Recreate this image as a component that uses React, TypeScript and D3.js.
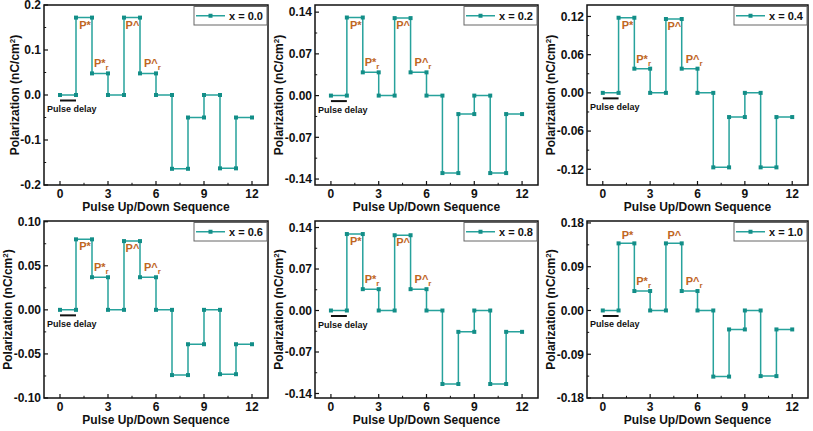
import React from "react";
import * as d3 from "d3";

// ---- data ----
const pulseSteps = [0, 1, 2, 3, 4, 5, 6, 7, 8, 9, 10, 11, 12];
const xTicks = [0, 3, 6, 9, 12];
const xMinorTicks = [1.5, 4.5, 7.5, 10.5];
const compositionLabels = ["x = 0.0", "x = 0.2", "x = 0.4", "x = 0.6", "x = 0.8", "x = 1.0"];

// polarization level held during each pulse interval [i, i+1]
const levelsX00 = [0, 0.172, 0.048, 0, 0.172, 0.048, 0, -0.164, -0.05, 0, -0.163, -0.05];
const levelsX02 = [0, 0.131, 0.039, 0, 0.13, 0.039, 0, -0.13, -0.031, 0, -0.13, -0.031];
const levelsX04 = [0, 0.118, 0.038, 0, 0.116, 0.038, 0, -0.117, -0.038, 0, -0.117, -0.038];
const levelsX06 = [0, 0.08, 0.037, 0, 0.078, 0.037, 0, -0.074, -0.039, 0, -0.073, -0.039];
const levelsX08 = [0, 0.129, 0.036, 0, 0.127, 0.036, 0, -0.124, -0.036, 0, -0.124, -0.036];
const levelsX10 = [0, 0.138, 0.04, 0, 0.138, 0.04, 0, -0.136, -0.039, 0, -0.135, -0.039];

const yDomainX00 = [-0.2, 0.2];
const yDomainX02 = [-0.15, 0.152];
const yDomainX04 = [-0.1447, 0.138];
const yDomainX06 = [-0.1, 0.1008];
const yDomainX08 = [-0.1476, 0.151];
const yDomainX10 = [-0.18, 0.184];

const yTicksX00 = [-0.2, -0.1, 0, 0.1, 0.2];
const yTicksX02 = [-0.14, -0.07, 0, 0.07, 0.14];
const yTicksX04 = [-0.12, -0.06, 0, 0.06, 0.12];
const yTicksX06 = [-0.1, -0.05, 0, 0.05, 0.1];
const yTicksX08 = [-0.14, -0.07, 0, 0.07, 0.14];
const yTicksX10 = [-0.18, -0.09, 0, 0.09, 0.18];

const yTickLabelsX00 = ["-0.2", "-0.1", "0.0", "0.1", "0.2"];
const yTickLabelsX02 = ["-0.14", "-0.07", "0.00", "0.07", "0.14"];
const yTickLabelsX04 = ["-0.12", "-0.06", "0.00", "0.06", "0.12"];
const yTickLabelsX06 = ["-0.10", "-0.05", "0.00", "0.05", "0.10"];
const yTickLabelsX08 = ["-0.14", "-0.07", "0.00", "0.07", "0.14"];
const yTickLabelsX10 = ["-0.18", "-0.09", "0.00", "0.09", "0.18"];

// annotation x positions (sequence units)
const annoPStarX = 1.2;
const annoPStarRX = 2.12;
const annoPHatX = 4.1;
const annoPHatRX = 5.25;
const pulseDelayRange = [0, 1];

const panels = [
  { label: compositionLabels[0], levels: levelsX00, dom: yDomainX00, ticks: yTicksX00, tl: yTickLabelsX00, topAbove: false },
  { label: compositionLabels[1], levels: levelsX02, dom: yDomainX02, ticks: yTicksX02, tl: yTickLabelsX02, topAbove: false },
  { label: compositionLabels[2], levels: levelsX04, dom: yDomainX04, ticks: yTicksX04, tl: yTickLabelsX04, topAbove: false },
  { label: compositionLabels[3], levels: levelsX06, dom: yDomainX06, ticks: yTicksX06, tl: yTickLabelsX06, topAbove: false },
  { label: compositionLabels[4], levels: levelsX08, dom: yDomainX08, ticks: yTicksX08, tl: yTickLabelsX08, topAbove: false },
  { label: compositionLabels[5], levels: levelsX10, dom: yDomainX10, ticks: yTicksX10, tl: yTickLabelsX10, topAbove: true },
];

// ---- layout / style ----
const W = 813;
const H = 431;
const cols = [
  { l: 44, r: 268 },
  { l: 315, r: 538 },
  { l: 587, r: 808 },
];
const rows = [
  { t: 5, b: 185 },
  { t: 221, b: 398 },
];
const FONT = "'Liberation Sans', Arial, Helvetica, sans-serif";
const LINE = "#27a29c";
const MARK = "#138e88";
const ANNO = "#c0661f";
const TICK_FS = 12;

// approximate width of a bold tick label (Arial/Liberation metrics)
function labelWidth(s: string) {
  let w = 0;
  for (const ch of s) w += ch === "." ? 0.278 : ch === "-" ? 0.333 : 0.556;
  return w * TICK_FS;
}

function Panel({ p, col, row }: any) {
  const x = d3.scaleLinear().domain([-1, 13]).range([col.l, col.r]);
  const y = d3.scaleLinear().domain(p.dom).range([row.b, row.t]);
  const pts: [number, number][] = [];
  p.levels.forEach((v: number, i: number) => {
    pts.push([pulseSteps[i], v]);
    pts.push([pulseSteps[i + 1], v]);
  });
  const line = d3
    .line<[number, number]>()
    .x((d) => x(d[0]))
    .y((d) => y(d[1]));
  const yMinor = d3.pairs(p.ticks as number[]).map(([a, b]) => (a + b) / 2);
  const cx = (col.l + col.r) / 2;
  const cy = (row.t + row.b) / 2;
  const lv = p.levels;
  const topDy = p.topAbove ? -4 : 3;
  const topBaseline = p.topAbove ? "auto" : "hanging";
  const legX = col.r - 74;
  const legY = row.t + 1.5;
  const maxW = d3.max(p.tl as string[], (s) => labelWidth(s)) || 0;
  const titleX = col.l - 3 - maxW - 1.8;
  return (
    <g>
      {/* frame */}
      <rect x={col.l} y={row.t} width={col.r - col.l} height={row.b - row.t} fill="none" stroke="#111" strokeWidth={1.5} />
      {/* x ticks */}
      {xTicks.map((t) => (
        <g key={"xt" + t}>
          <line x1={x(t)} x2={x(t)} y1={row.b} y2={row.b - 4} stroke="#111" strokeWidth={1.2} />
          <text x={x(t)} y={row.b + 12.5} textAnchor="middle" fontSize={TICK_FS} fontWeight="bold" fontFamily={FONT} fill="#111">
            {t}
          </text>
        </g>
      ))}
      {xMinorTicks.map((t) => (
        <line key={"xm" + t} x1={x(t)} x2={x(t)} y1={row.b} y2={row.b - 2.2} stroke="#111" strokeWidth={1} />
      ))}
      {/* y ticks */}
      {p.ticks.map((t: number, i: number) => (
        <g key={"yt" + i}>
          <line x1={col.l} x2={col.l + 4} y1={y(t)} y2={y(t)} stroke="#111" strokeWidth={1.2} />
          <text x={col.l - 3} y={y(t) + 4.3} textAnchor="end" fontSize={TICK_FS} fontWeight="bold" fontFamily={FONT} fill="#111">
            {p.tl[i]}
          </text>
        </g>
      ))}
      {yMinor.map((t, i) => (
        <line key={"ym" + i} x1={col.l} x2={col.l + 2.2} y1={y(t)} y2={y(t)} stroke="#111" strokeWidth={1} />
      ))}
      {/* axis titles */}
      <text x={cx} y={row.b + 26} textAnchor="middle" fontSize={12} fontWeight="bold" fontFamily={FONT} fill="#111">
        Pulse Up/Down Sequence
      </text>
      <text
        transform={`translate(${titleX},${cy}) rotate(-90)`}
        textAnchor="middle"
        fontSize={12}
        fontWeight="bold"
        fontFamily={FONT}
        fill="#111"
      >
        Polarization (nC/cm<tspan dy={-4} fontSize={8}>2</tspan>
        <tspan dy={4}>)</tspan>
      </text>
      {/* pulse delay */}
      <line
        x1={x(pulseDelayRange[0])}
        x2={x(pulseDelayRange[1])}
        y1={y(0) + 5.5}
        y2={y(0) + 5.5}
        stroke="#111"
        strokeWidth={2}
      />
      <text x={col.l + 3} y={y(0) + 17} fontSize={9} fontWeight="bold" fontFamily={FONT} fill="#111">
        Pulse delay
      </text>
      {/* data */}
      <path d={line(pts) || ""} fill="none" stroke={LINE} strokeWidth={1.5} />
      {pts.map((d, i) => (
        <rect key={"m" + i} x={x(d[0]) - 2} y={y(d[1]) - 2} width={4} height={4} fill={MARK} />
      ))}
      {/* annotations */}
      <text x={x(annoPStarX)} y={y(lv[1]) + topDy} dominantBaseline={topBaseline} fontSize={11} fontWeight="bold" fontFamily={FONT} fill={ANNO}>
        P*
      </text>
      <text x={x(annoPHatX)} y={y(lv[4]) + topDy} dominantBaseline={topBaseline} fontSize={11} fontWeight="bold" fontFamily={FONT} fill={ANNO}>
        P^
      </text>
      <text x={x(annoPStarRX)} y={y(lv[2]) - 6} fontSize={11} fontWeight="bold" fontFamily={FONT} fill={ANNO}>
        P*<tspan dy={3} fontSize={8}>r</tspan>
      </text>
      <text x={x(annoPHatRX)} y={y(lv[5]) - 6} fontSize={11} fontWeight="bold" fontFamily={FONT} fill={ANNO}>
        P^<tspan dy={3} fontSize={8}>r</tspan>
      </text>
      {/* legend */}
      <rect x={legX} y={legY} width={73} height={18.5} fill="#fff" stroke="#666" strokeWidth={1} />
      <line x1={legX + 2} x2={legX + 31} y1={legY + 9.25} y2={legY + 9.25} stroke={LINE} strokeWidth={1.5} />
      <rect x={legX + 16.5 - 2} y={legY + 9.25 - 2} width={4} height={4} fill={MARK} />
      <text x={legX + 35} y={legY + 13.3} fontSize={11} fontWeight="bold" fontFamily={FONT} fill="#111">
        {p.label}
      </text>
    </g>
  );
}

export default function App() {
  return (
    <svg
      width={W}
      height={H}
      viewBox={`0 0 ${W} ${H}`}
      style={{ position: "absolute", left: 0, top: 0, background: "#fff" }}
    >
      <rect x={0} y={0} width={W} height={H} fill="#fff" />
      {panels.map((p, i) => (
        <Panel key={i} p={p} col={cols[i % 3]} row={rows[Math.floor(i / 3)]} />
      ))}
    </svg>
  );
}
